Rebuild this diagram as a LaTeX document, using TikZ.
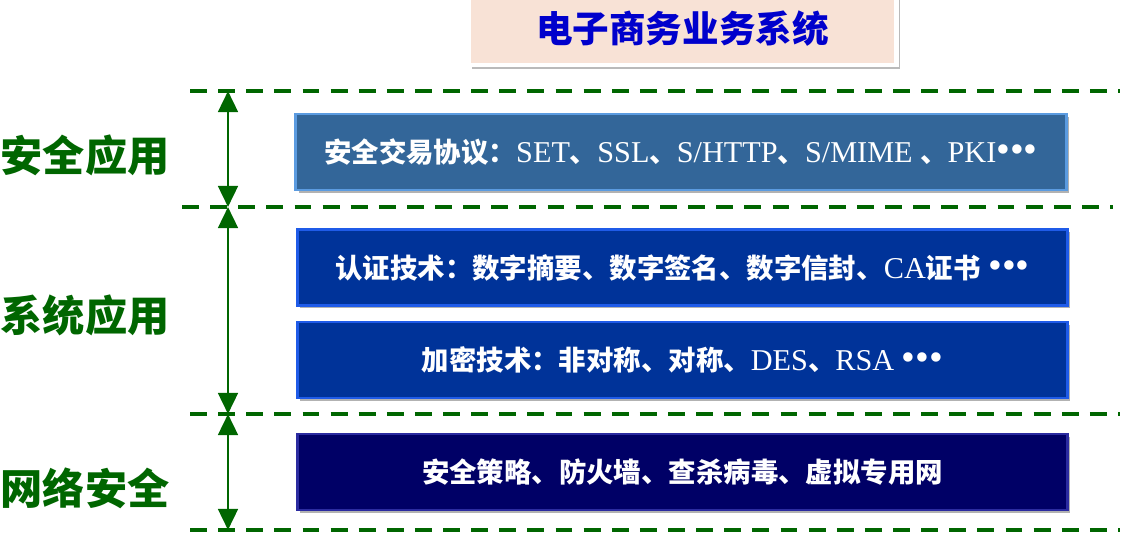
\documentclass[tikz,border=0pt]{standalone}
\usepackage{fontspec}
\setmainfont{Liberation Serif}
\newfontfamily\cjk{Noto Sans CJK SC}
\newfontfamily\cjkblack{Noto Sans CJK SC Black}
\usetikzlibrary{arrows.meta,shadows}
\definecolor{dkgreen}{HTML}{006600}
\definecolor{peach}{HTML}{F8E2D6}
\definecolor{titleblue}{HTML}{0000CC}
\definecolor{steel}{HTML}{336699}
\definecolor{steeledge}{HTML}{5B9BE0}
\definecolor{royal}{HTML}{003399}
\definecolor{royaledge}{HTML}{1F5BE8}
\definecolor{navy}{HTML}{000066}
\definecolor{navyedge}{HTML}{2B2BA0}
\newcommand\zh[1]{{\cjk\bfseries\fontsize{19.5}{24}\selectfont #1}}
\newcommand\etcdots{{\fontsize{28}{28}\selectfont •••}}

\begin{document}
\begin{tikzpicture}[x=0.025cm,y=-0.025cm,
  sep/.style={dash pattern=on 12pt off 8pt,line width=3pt,color=dkgreen},
  span/.style={{Triangle[length=15pt,width=14pt]}-{Triangle[length=15pt,width=14pt]},line width=2pt,color=dkgreen},
  tag/.style={text=dkgreen,font=\cjkblack\fontsize{30}{32}\selectfont},
  layer/.style 2 args={draw=#1,fill=#2,line width=2pt,minimum width=19.25cm,minimum height=1.9cm,
    text=white,font=\fontsize{21.5}{24}\selectfont,
    drop shadow={shadow xshift=2pt,shadow yshift=-2pt,opacity=0.3,fill=black}}]

\useasboundingbox (0,0) rectangle (1129,540);

\node[draw=white,fill=peach,line width=3pt,minimum width=10.7cm,minimum height=1.8cm,
  drop shadow={shadow xshift=2.5pt,shadow yshift=-2.5pt,opacity=0.45,fill=black!60},
  text=titleblue,font=\cjk\bfseries\fontsize{26}{30}\selectfont] (head) at (682.5,29) {电子商务业务系统};

\draw[sep] (190,91)--(1120,91);
\draw[sep] (182,207)--(1113,207);
\draw[sep] (190,414)--(1120,414);
\draw[sep] (190,530)--(1120,530);

\coordinate (t1) at (228,91);
\coordinate (t2) at (228,207);
\coordinate (t3) at (228,414);
\coordinate (t4) at (228,530);
\draw[span] (t1)--(t2);
\draw[span] (t2)--(t3);
\draw[span] (t3)--(t4);

\node[tag] (secapp) at (85,155) {安全应用};
\node[tag] (sysapp) at (85,315) {系统应用};
\node[tag] (netsec) at (85,488) {网络安全};

\node[layer={steeledge}{steel}] (proto) at (681,152)
  {\zh{安全交易协议：}SET\zh{、}SSL\zh{、}S/HTTP\zh{、}S/MIME \zh{、}PKI\etcdots};
\node[layer={royaledge}{royal}] (auth) at (682.5,267.5)
  {\zh{认证技术：数字摘要、数字签名、数字信封、}CA\zh{证书} \etcdots};
\node[layer={royaledge}{royal}] (crypt) at (682.5,360)
  {\zh{加密技术：非对称、对称、}DES\zh{、}RSA \etcdots};
\node[layer={navyedge}{navy}] (net) at (682.5,472)
  {\zh{安全策略、防火墙、查杀病毒、虚拟专用网}};

\end{tikzpicture}
\end{document}
